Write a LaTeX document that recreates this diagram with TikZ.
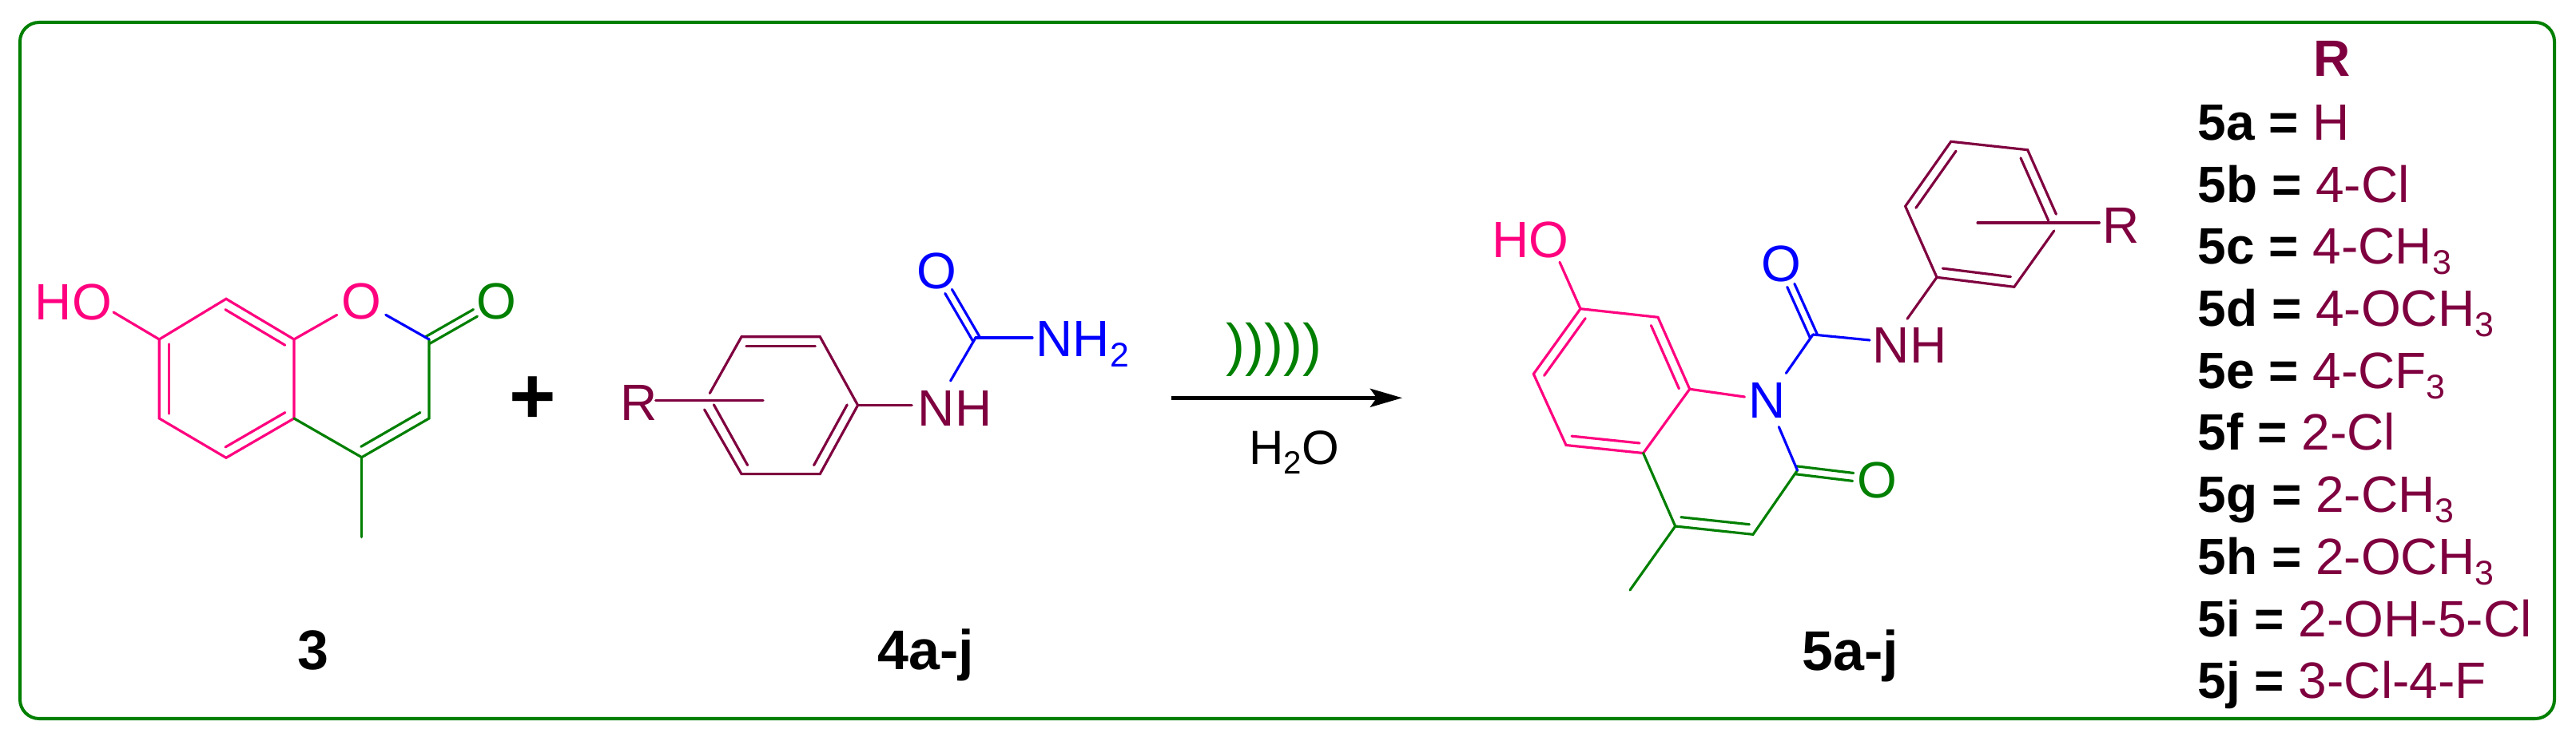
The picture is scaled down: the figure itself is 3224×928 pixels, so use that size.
\documentclass[tikz,border=0pt]{standalone}
\usepackage{fontspec}
\setmainfont{Liberation Sans}
\usetikzlibrary{arrows.meta, calc}

\definecolor{rosered}{HTML}{FF007F}
\definecolor{darkgreen}{HTML}{007F00}
\definecolor{pureblue}{HTML}{0000FF}
\definecolor{wine}{HTML}{7F003F}

\newcommand{\subnum}[1]{\raisebox{-.2em}{\scalebox{.67}{#1}}}
\newcommand{\inbond}[2]{\draw ($(#1)!.06!(#2)!.12cm!90:(#2)$) -- ($(#1)!.94!(#2)!.12cm!90:(#2)$);}
\newcommand{\twobond}[2]{
	\draw[shorten <=-.02cm, shorten >=.3cm] ($(#1)!.05cm!90:(#2)$) -- ($(#2)!.05cm!-90:(#1)$);
	\draw[shorten <=-.02cm, shorten >=.3cm] ($(#1)!.05cm!-90:(#2)$) -- ($(#2)!.05cm!90:(#1)$);
}

\begin{document}
\begin{tikzpicture}[x=.01cm, y=-.01cm, line width=.9pt, line cap=round, line join=miter,
		atom/.style={inner sep=0pt, font=\fontsize{18.2}{22}\selectfont},
		oxy/.style={atom, circle, minimum size=.6cm},
		nitro/.style={atom, minimum width=.54cm, minimum height=.64cm},
		molname/.style={inner sep=0pt, anchor=base, font=\fontsize{19.9}{24}\selectfont\bfseries},
		rowlabel/.style={inner sep=0pt, anchor=base west, font=\fontsize{18.2}{22}\selectfont}]
	\useasboundingbox (0, 0) rectangle (3224, 928);
	\draw[darkgreen, line width=1.14pt, rounded corners=.24cm] (25, 28) rectangle (3197, 900);

	\coordinate (u1) at (199.3, 425);
	\coordinate (u2) at (283, 374.3);
	\coordinate (u3) at (368, 425);
	\coordinate (u4) at (368, 524);
	\coordinate (u5) at (283, 573.3);
	\coordinate (u6) at (199.3, 524);
	\coordinate (u7) at (537, 425);
	\coordinate (u8) at (537, 524);
	\coordinate (u9) at (452.7, 572.7);
	\coordinate (ume) at (452.7, 672.7);
	\coordinate (uho) at (142, 391);
	\node[atom, anchor=base, text=rosered] (hoa) at (92, 400.5) {HO};
	\node[oxy, text=rosered] (oa) at (452.2, 377) {O};
	\node[oxy, text=darkgreen] (ob) at (621, 377) {O};
	\node[molname] (three) at (392, 838) {3};

	\begin{scope}[rosered]
		\draw (u1) -- (u2) -- (u3) -- (u4) -- (u5) -- (u6) -- cycle;
		\draw (uho) -- (u1);
		\draw (u3) -- (oa);
		\inbond{u1}{u6}
		\inbond{u5}{u4}
		\inbond{u3}{u2}
	\end{scope}
	\begin{scope}[darkgreen]
		\draw (u4) -- (u9) -- (u8) -- (u7);
		\draw (u9) -- (ume);
		\inbond{u9}{u8}
		\twobond{u7}{ob}
	\end{scope}
	\draw[pureblue] (oa) -- (u7);

	\node[inner sep=0pt, anchor=base, font=\fontsize{28.5}{32}\selectfont\bfseries] (plus) at (667, 531) {+};

	\coordinate (v1) at (928, 421.8);
	\coordinate (v2) at (1026.3, 421.8);
	\coordinate (v3) at (1073.6, 507.5);
	\coordinate (v4) at (1026.3, 593.6);
	\coordinate (v5) at (928, 593.6);
	\coordinate (v6) at (880, 507.5);
	\coordinate (vup) at (888.3, 492.5);
	\coordinate (vlo) at (881.6, 512.9);
	\coordinate (v7) at (1221, 423);
	\coordinate (vr) at (955, 501.8);
	\coordinate (vn) at (1189.6, 477);
	\node[atom, anchor=base, text=wine] (ra) at (800, 527) {R};
	\node[atom, anchor=base, text=wine] (nha) at (1195, 533.6) {NH};
	\node[oxy, text=pureblue] (oc) at (1172, 339) {O};
	\node[atom, anchor=base west, text=pureblue] (nhb) at (1295, 447) {NH\subnum{2}};
	\node[molname] (four) at (1159, 838) {4a-j};

	\begin{scope}[wine]
		\draw (vup) -- (v1) -- (v2) -- (v3) -- (v4) -- (v5) -- (vlo);
		\draw[shorten >=.06cm] (v3) -- (v3 -| nha.west);
		\draw[shorten >=-.04cm] (vr) -- (vr -| ra.east);
		\inbond{v2}{v1}
		\inbond{v6}{v5}
		\inbond{v4}{v3}
	\end{scope}
	\begin{scope}[pureblue]
		\draw (v7) -- (vn);
		\draw[shorten >=.03cm] (v7) -- (v7 -| nhb.west);
		\twobond{v7}{oc}
	\end{scope}

	\node[inner sep=0pt, anchor=base, text=darkgreen, font=\fontsize{20.5}{24}\selectfont] (sound) at (1594, 456.6) {)))))};
	\node[inner sep=0pt, anchor=base, font=\fontsize{17.07}{20}\selectfont] (water) at (1619.5, 581.7) {H\subnum{2}O};
	\coordinate (from) at (1466, 498.3);
	\coordinate (to) at (1755, 498.3);
	\draw[line width=1.33pt, line cap=butt, -{Stealth[length=.4cm, width=.23cm, inset=.08cm]}] (from) -- (to);

	\coordinate (w1) at (1978, 386.7);
	\coordinate (w2) at (2075, 397.3);
	\coordinate (w3) at (2114.7, 487.3);
	\coordinate (w4) at (2056.6, 567.5);
	\coordinate (w5) at (1960, 557.5);
	\coordinate (w6) at (1919.3, 468.3);
	\coordinate (w7) at (2096.7, 659);
	\coordinate (w8) at (2194, 669.3);
	\coordinate (w9) at (2249.5, 589);
	\coordinate (wme) at (2040, 739);
	\coordinate (wc) at (2269, 419);
	\coordinate (woh) at (1952, 328.3);
	\coordinate (wn) at (2340, 426);
	\node[atom, anchor=base, text=rosered] (hob) at (1915, 322.7) {HO};
	\node[nitro, text=pureblue] (na) at (2212, 501) {N};
	\node[atom, anchor=base, text=wine] (nhc) at (2390, 455) {NH};
	\node[oxy, text=pureblue] (od) at (2229, 330) {O};
	\node[oxy, text=darkgreen] (oe) at (2349, 601) {O};
	\node[molname] (five) at (2316, 840) {5a-j};

	\begin{scope}[rosered]
		\draw (w1) -- (w2) -- (w3) -- (w4) -- (w5) -- (w6) -- cycle;
		\draw (w1) -- (woh);
		\draw (w3) -- (na);
		\inbond{w1}{w6}
		\inbond{w5}{w4}
		\inbond{w3}{w2}
	\end{scope}
	\begin{scope}[darkgreen]
		\draw (w4) -- (w7) -- (w8) -- (w9);
		\draw (w7) -- (wme);
		\inbond{w7}{w8}
		\twobond{w9}{oe}
	\end{scope}
	\begin{scope}[pureblue]
		\draw (wc) -- (na);
		\draw (w9) -- (na);
		\draw (wc) -- (wn);
		\twobond{wc}{od}
	\end{scope}

	\coordinate (x1) at (2424, 347.3);
	\coordinate (x2) at (2520.8, 359.3);
	\coordinate (x3) at (2577, 276.7);
	\coordinate (x4) at (2537.6, 187.7);
	\coordinate (x5) at (2441.7, 177.3);
	\coordinate (x6) at (2384.6, 258.3);
	\coordinate (xup) at (2573.4, 268.3);
	\coordinate (xlo) at (2570.8, 289);
	\coordinate (xr) at (2475, 279);
	\coordinate (xn) at (2387, 399.3);
	\node[atom, anchor=base, text=wine] (rb) at (2655, 304.5) {R};

	\begin{scope}[wine]
		\draw (xup) -- (x4) -- (x5) -- (x6) -- (x1) -- (x2) -- (xlo);
		\draw (x1) -- (xn);
		\draw[shorten >=.03cm] (xr) -- (xr -| rb.west);
		\inbond{x1}{x2}
		\inbond{x3}{x4}
		\inbond{x5}{x6}
	\end{scope}

	\node[atom, anchor=base, text=wine, font=\fontsize{18.2}{22}\selectfont\bfseries] (rhead) at (2919, 96) {R};
	\foreach \nm/\val [count=\k from 0] in {5a/H, 5b/4-Cl, 5c/4-CH\subnum{3}, 5d/4-OCH\subnum{3}, 5e/4-CF\subnum{3},
			5f/2-Cl, 5g/2-CH\subnum{3}, 5h/2-OCH\subnum{3}, 5i/2-OH-5-Cl, 5j/3-Cl-4-F}
		\node[rowlabel] (row\nm) at (2749, {175.5 + 77.7 * \k}) {\textbf{\nm{} = }\textcolor{wine}{\val}};
\end{tikzpicture}
\end{document}
